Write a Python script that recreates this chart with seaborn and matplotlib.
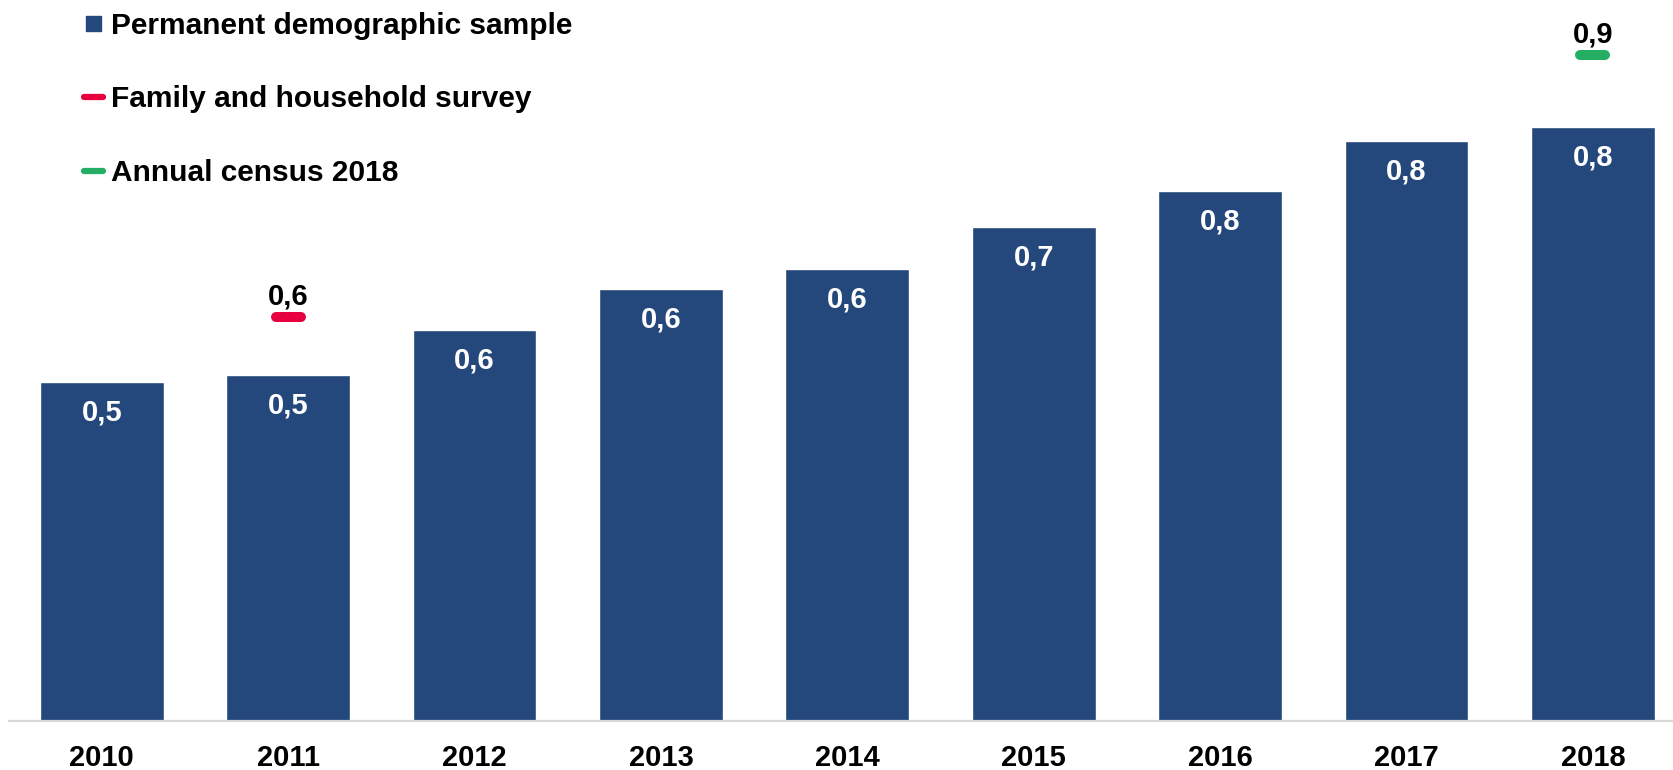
import matplotlib
matplotlib.use("Agg")
import matplotlib.pyplot as plt
from matplotlib.lines import Line2D
import seaborn as sns
import pandas as pd

# Data
years = ["2010", "2011", "2012", "2013", "2014", "2015", "2016", "2017", "2018"]
sample_values = [0.480, 0.491, 0.555, 0.612, 0.641, 0.701, 0.752, 0.823, 0.842]
survey_year = "2011"
survey_value = 0.573
census_year = "2018"
census_value = 0.944

series_names = ["Permanent demographic sample", "Family and household survey", "Annual census 2018"]

BLUE = "#24487B"
RED = "#E8003E"
GREEN = "#23AE63"
FS = 21

sns.set_theme(style="white")
plt.rcParams["font.family"] = ["Liberation Sans", "DejaVu Sans"]
plt.rcParams["font.weight"] = "bold"

W, H = 1674, 770
fig = plt.figure(figsize=(W / 100, H / 100), dpi=100)
ax = fig.add_axes([8.5 / W, 49.4 / H, 1 - 8.5 / W, 1 - 49.4 / H])

df = pd.DataFrame({"year": years, "value": sample_values})
sns.barplot(data=df, x="year", y="value", order=years, color=BLUE,
            saturation=1, width=0.665, ax=ax)

ax.set_xlim(-0.5, 8.435)
ax.set_ylim(0, 1.0227)

# Value labels inside the bars
def fmt(v):
    return f"{v:.1f}".replace(".", ",")

for i, v in enumerate(sample_values):
    ax.annotate(fmt(v), (i, v), xytext=(0, -22), textcoords="offset points",
                ha="center", va="center", color="white", fontsize=FS,
                fontweight="bold")

# Single-point estimates shown as short rounded dashes
half = 0.067
for yr, val, col in [(survey_year, survey_value, RED), (census_year, census_value, GREEN)]:
    xi = years.index(yr)
    ax.hlines(val, xi - half, xi + half, colors=col, linewidth=7.2,
              capstyle="round")
    ax.annotate(fmt(val), (xi, val), xytext=(0, 15), textcoords="offset points",
                ha="center", va="center", color="black", fontsize=FS,
                fontweight="bold")

# Axes styling
for s in ["top", "right", "left"]:
    ax.spines[s].set_visible(False)
ax.spines["bottom"].set_color("#D9D9D9")
ax.spines["bottom"].set_linewidth(1.6)
ax.set_yticks([])
ax.set_xlabel("")
ax.set_ylabel("")
ax.tick_params(axis="x", length=0, pad=16.5, labelsize=FS, labelcolor="black")
for lbl in ax.get_xticklabels():
    lbl.set_fontweight("bold")

# Legend
handles = [
    Line2D([], [], linestyle="none", marker="s", markersize=10.8,
           markerfacecolor=BLUE, markeredgecolor=BLUE),
    Line2D([], [], color=RED, linewidth=4.5, solid_capstyle="round"),
    Line2D([], [], color=GREEN, linewidth=4.5, solid_capstyle="round"),
]
leg = fig.legend(handles, series_names, loc="upper left",
                 bbox_to_anchor=(84 / W, 1 - 11.5 / H), frameon=False,
                 borderpad=0, borderaxespad=0, handlelength=0.62,
                 handletextpad=0.3, labelspacing=1.54,
                 prop={"size": 21.5, "weight": "bold"})
for t in leg.get_texts():
    t.set_color("black")

fig.savefig("out.png", dpi=100)
